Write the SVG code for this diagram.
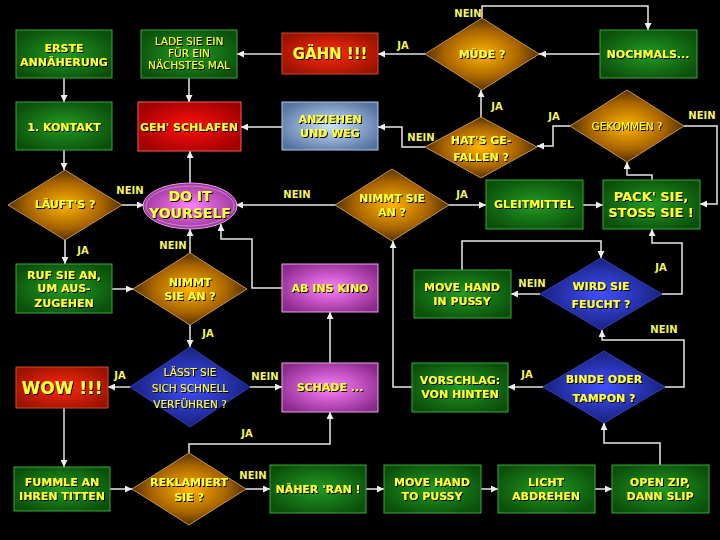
<svg xmlns="http://www.w3.org/2000/svg" width="720" height="540" viewBox="0 0 720 540">
<defs>
<radialGradient id="gGreen" cx="50%" cy="50%" r="60%"><stop offset="0" stop-color="#239a23"/><stop offset="1" stop-color="#0a4f0a"/></radialGradient>
<radialGradient id="gOrange" cx="50%" cy="50%" r="55%"><stop offset="0" stop-color="#ffb400"/><stop offset="0.6" stop-color="#a86400"/><stop offset="1" stop-color="#3a2200"/></radialGradient>
<radialGradient id="gBlue" cx="50%" cy="50%" r="55%"><stop offset="0" stop-color="#4050ff"/><stop offset="1" stop-color="#141c70"/></radialGradient>
<radialGradient id="gRed" cx="50%" cy="50%" r="60%"><stop offset="0" stop-color="#ff2a10"/><stop offset="1" stop-color="#9a1200"/></radialGradient>
<radialGradient id="gRed2" cx="50%" cy="50%" r="60%"><stop offset="0" stop-color="#ff1010"/><stop offset="1" stop-color="#a00000"/></radialGradient>
<radialGradient id="gPink" cx="50%" cy="50%" r="60%"><stop offset="0" stop-color="#ff80ff"/><stop offset="1" stop-color="#8c2a8c"/></radialGradient>
<radialGradient id="gSteel" cx="50%" cy="50%" r="60%"><stop offset="0" stop-color="#c8e4ff"/><stop offset="1" stop-color="#5672a0"/></radialGradient>
<filter id="sh" x="-10%" y="-20%" width="120%" height="140%"><feDropShadow dx="1" dy="1" stdDeviation="0.4" flood-color="#000" flood-opacity="1"/></filter>
<marker id="ar" viewBox="0 0 10 10" refX="10" refY="5" markerWidth="7" markerHeight="7" markerUnits="userSpaceOnUse" orient="auto"><path d="M0,0 L10,5 L0,10 z" fill="#eeeeee"/></marker>
</defs>
<style>
.bg{fill:#000}
.green{fill:url(#gGreen);stroke:#3aa83a;stroke-width:1}
.orange{fill:url(#gOrange);stroke:#c8964a;stroke-width:1}
.blue{fill:url(#gBlue);stroke:#3040b8;stroke-width:1}
.red{fill:url(#gRed);stroke:#d04a2a;stroke-width:1}
.red2{fill:url(#gRed2);stroke:#ff5a5a;stroke-width:1}
.pink{fill:url(#gPink);stroke:#eaa0ea;stroke-width:1}
.steel{fill:url(#gSteel);stroke:#b0cce8;stroke-width:1}
.t{font-family:"DejaVu Sans","Liberation Sans",sans-serif;font-size:11px;font-weight:bold;fill:#ffff3a;text-anchor:middle;filter:url(#sh)}
.tn{font-family:"DejaVu Sans","Liberation Sans",sans-serif;font-size:10.5px;font-weight:normal;fill:#ffff3a;text-anchor:middle;filter:url(#sh)}
.lab{font-family:"DejaVu Sans","Liberation Sans",sans-serif;font-size:10px;font-weight:bold;fill:#f4f460;text-anchor:middle}
.c{fill:none;stroke:#e8e8e8;stroke-width:1.5;marker-end:url(#ar)}
.cg{fill:none;stroke:#a8a8a8;stroke-width:2;marker-end:url(#ar)}
</style>
<rect class="bg" x="0" y="0" width="720" height="540"/>

<g id="connectors">
<path class="c" d="M64,78 V102"/>
<path class="c" d="M64,150 V170"/>
<path class="c" d="M122,205 H144"/>
<path class="c" d="M65,240 V264"/>
<path class="c" d="M112,289 H133"/>
<path class="c" d="M190,253 V229"/>
<path class="c" d="M190,325 V347"/>
<path class="cg" d="M130,387 H108"/>
<path class="c" d="M250,387 H282"/>
<path class="c" d="M330,363 V312"/>
<path class="c" d="M282,288 H252 V239 H221 V224"/>
<path class="cg" d="M64,408 V467"/>
<path class="c" d="M110,489 H132"/>
<path class="c" d="M189,453 V444 H330 V412"/>
<path class="c" d="M246,489 H270"/>
<path class="c" d="M366,489 H384"/>
<path class="c" d="M481,489 H498"/>
<path class="c" d="M595,489 H612"/>
<path class="c" d="M660,465 V443 H604 V423"/>
<path class="cg" d="M543,387 H508"/>
<path class="c" d="M665,387 H684 V340 H602 V330"/>
<path class="c" d="M412,387 H393 V241"/>
<path class="cg" d="M540,294 H511"/>
<path class="c" d="M462,270 V241 H601 V258"/>
<path class="c" d="M662,294 H682 V243 H652 V229"/>
<path class="c" d="M449,205 H486"/>
<path class="c" d="M335,205 H236"/>
<path class="c" d="M583,205 H603"/>
<path class="c" d="M652,180 V175 H627 V162"/>
<path class="c" d="M570,126 H553 V146 H537"/>
<path class="c" d="M684,126 H717 V204 H700"/>
<path class="c" d="M425,147 H402 V127 H378"/>
<path class="c" d="M481,118 V90"/>
<path class="cg" d="M425,54 H378"/>
<path class="c" d="M482,18 V6 H648 V30"/>
<path class="c" d="M600,54 H539"/>
<path class="cg" d="M282,54 H237"/>
<path class="c" d="M189,78 V102"/>
<path class="c" d="M282,127 H241"/>
<path class="c" d="M190,183 V151"/>
<text class="lab" x="130" y="194">NEIN</text>
<text class="lab" x="83" y="254">JA</text>
<text class="lab" x="173" y="249">NEIN</text>
<text class="lab" x="208" y="337">JA</text>
<text class="lab" x="297" y="198">NEIN</text>
<text class="lab" x="462" y="198">JA</text>
<text class="lab" x="120" y="379">JA</text>
<text class="lab" x="265" y="380">NEIN</text>
<text class="lab" x="247" y="437">JA</text>
<text class="lab" x="253" y="479">NEIN</text>
<text class="lab" x="527" y="378">JA</text>
<text class="lab" x="532" y="287">NEIN</text>
<text class="lab" x="661" y="271">JA</text>
<text class="lab" x="664" y="333">NEIN</text>
<text class="lab" x="468" y="17">NEIN</text>
<text class="lab" x="403" y="49">JA</text>
<text class="lab" x="497" y="110">JA</text>
<text class="lab" x="554" y="120">JA</text>
<text class="lab" x="702" y="119">NEIN</text>
<text class="lab" x="421" y="141">NEIN</text>
</g>

<g id="erste"><rect class="green" x="16" y="30" width="96" height="48"/><text class="t" x="64" y="52">ERSTE</text><text class="t" x="64" y="66">ANNÄHERUNG</text></g>
<g id="kontakt"><rect class="green" x="16" y="102" width="96" height="48"/><text class="t" x="64" y="131">1. KONTAKT</text></g>
<g id="lade"><rect class="green" x="141" y="30" width="96" height="48"/><text class="tn" x="189" y="45">LADE SIE EIN</text><text class="tn" x="189" y="57">FÜR EIN</text><text class="tn" x="189" y="69">NÄCHSTES MAL</text></g>
<g id="gaehn"><rect class="red" x="282" y="33" width="96" height="41"/><text class="t" style="font-size:15px" x="330" y="59">GÄHN !!!</text></g>
<g id="muede"><polygon class="orange" points="425,54 482,18 539,54 482,90"/><text class="t" x="482" y="58">MÜDE ?</text></g>
<g id="nochmals"><rect class="green" x="600" y="30" width="97" height="48"/><text class="t" x="648" y="58">NOCHMALS...</text></g>
<g id="schlafen"><rect class="red2" x="138" y="102" width="103" height="49"/><text class="t" x="189" y="131">GEH' SCHLAFEN</text></g>
<g id="anziehen"><rect class="steel" x="282" y="102" width="96" height="48"/><text class="t" x="330" y="123">ANZIEHEN</text><text class="t" x="330" y="137">UND WEG</text></g>
<g id="gefallen"><polygon class="orange" points="425,147 481,117 537,147 481,178"/><text class="t" x="481" y="144">HAT'S GE-</text><text class="t" x="481" y="161">FALLEN ?</text></g>
<g id="gekommen"><polygon class="orange" points="570,126 627,90 684,126 627,162"/><text class="tn" x="627" y="130">GEKOMMEN ?</text></g>
<g id="laeufts"><polygon class="orange" points="8,205 65,170 122,205 65,240"/><text class="t" x="65" y="208">LÄUFT'S ?</text></g>
<g id="diy"><ellipse cx="190" cy="206" rx="47" ry="23" fill="url(#gPink)" stroke="#e8a0e8" stroke-width="1"/><ellipse cx="190" cy="206" rx="44" ry="20" fill="none" stroke="#f0b8f0" stroke-width="0.8" opacity="0.7"/><text class="t" style="font-size:14px" x="190" y="201">DO IT</text><text class="t" style="font-size:14px" x="190" y="218">YOURSELF</text></g>
<g id="nimmt1"><polygon class="orange" points="133,289 190,253 247,289 190,325"/><text class="t" x="190" y="286">NIMMT</text><text class="t" x="190" y="300">SIE AN ?</text></g>
<g id="ruf"><rect class="green" x="16" y="264" width="96" height="49"/><text class="t" x="64" y="279">RUF SIE AN,</text><text class="t" x="64" y="292">UM AUS-</text><text class="t" x="64" y="307">ZUGEHEN</text></g>
<g id="kino"><rect class="pink" x="282" y="264" width="96" height="48"/><text class="t" x="330" y="292">AB INS KINO</text></g>
<g id="nimmt2"><polygon class="orange" points="335,205 392,169 449,205 392,241"/><text class="t" x="392" y="202">NIMMT SIE</text><text class="t" x="392" y="216">AN ?</text></g>
<g id="gleit"><rect class="green" x="486" y="180" width="97" height="49"/><text class="t" x="534" y="208">GLEITMITTEL</text></g>
<g id="pack"><rect class="green" x="603" y="180" width="97" height="49"/><text class="t" style="font-size:13px" x="651" y="201">PACK' SIE,</text><text class="t" style="font-size:13px" x="651" y="217">STOSS SIE !</text></g>
<g id="movein"><rect class="green" x="414" y="270" width="97" height="48"/><text class="t" x="462" y="291">MOVE HAND</text><text class="t" x="462" y="305">IN PUSSY</text></g>
<g id="feucht"><polygon class="blue" points="540,294 601,258 662,294 601,330"/><text class="t" x="601" y="290">WIRD SIE</text><text class="t" x="601" y="308">FEUCHT ?</text></g>
<g id="wow"><rect class="red" x="16" y="367" width="92" height="41"/><text class="t" style="font-size:17px" x="62" y="394">WOW !!!</text></g>
<g id="laesst"><polygon class="blue" points="130,387 190,347 250,387 190,427"/><text class="tn" x="190" y="376">LÄSST SIE</text><text class="tn" x="190" y="392">SICH SCHNELL</text><text class="tn" x="190" y="408">VERFÜHREN ?</text></g>
<g id="schade"><rect class="pink" x="282" y="363" width="96" height="49"/><text class="t" x="330" y="391">SCHADE ...</text></g>
<g id="vorschlag"><rect class="green" x="412" y="363" width="96" height="49"/><text class="t" x="460" y="384">VORSCHLAG:</text><text class="t" x="460" y="398">VON HINTEN</text></g>
<g id="binde"><polygon class="blue" points="543,387 604,351 665,387 604,423"/><text class="t" x="604" y="383">BINDE ODER</text><text class="t" x="604" y="402">TAMPON ?</text></g>
<g id="fummle"><rect class="green" x="14" y="467" width="96" height="44"/><text class="t" x="62" y="486">FUMMLE AN</text><text class="t" x="62" y="500">IHREN TITTEN</text></g>
<g id="reklamiert"><polygon class="orange" points="132,489 189,453 246,489 189,525"/><text class="t" x="189" y="486">REKLAMIERT</text><text class="t" x="189" y="501">SIE ?</text></g>
<g id="naeher"><rect class="green" x="270" y="465" width="96" height="48"/><text class="t" x="318" y="493">NÄHER 'RAN !</text></g>
<g id="moveto"><rect class="green" x="384" y="465" width="97" height="48"/><text class="t" x="432" y="486">MOVE HAND</text><text class="t" x="432" y="500">TO PUSSY</text></g>
<g id="licht"><rect class="green" x="498" y="465" width="97" height="48"/><text class="t" x="546" y="486">LICHT</text><text class="t" x="546" y="500">ABDREHEN</text></g>
<g id="openzip"><rect class="green" x="612" y="465" width="97" height="48"/><text class="t" x="660" y="486">OPEN ZIP,</text><text class="t" x="660" y="500">DANN SLIP</text></g>
</svg>
